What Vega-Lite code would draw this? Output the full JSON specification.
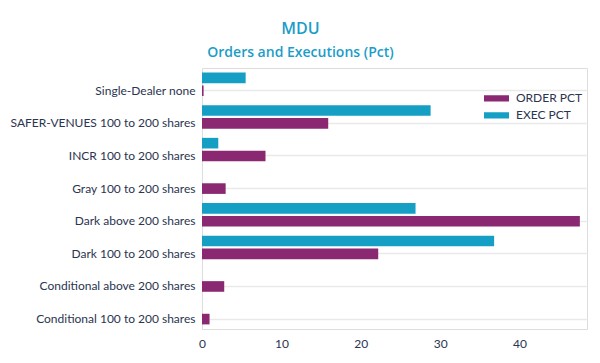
{
  "$schema": "https://vega.github.io/schema/vega-lite/v6.json",
  "width": 385,
  "height": 261,
  "autosize": {"type": "none"},
  "padding": {"left": 202, "top": 68, "right": 13, "bottom": 34},
  "background": "white",
  "title": {
    "text": "MDU",
    "subtitle": "Orders and Executions (Pct)",
    "anchor": "middle",
    "dx": -94,
    "offset": 8,
    "font": "Open Sans",
    "fontSize": 16,
    "fontWeight": 600,
    "color": "#1b9dc8",
    "subtitleFont": "Open Sans",
    "subtitleFontSize": 14,
    "subtitleFontWeight": 600,
    "subtitleColor": "#1b9dc8",
    "subtitlePadding": 9
  },
  "data": {
    "values": [
      {"venue": "Single-Dealer none", "series": "EXEC PCT", "pct": 5.5},
      {"venue": "Single-Dealer none", "series": "ORDER PCT", "pct": 0.2},
      {"venue": "SAFER-VENUES 100 to 200 shares", "series": "EXEC PCT", "pct": 28.8},
      {"venue": "SAFER-VENUES 100 to 200 shares", "series": "ORDER PCT", "pct": 15.9},
      {"venue": "INCR 100 to 200 shares", "series": "EXEC PCT", "pct": 2.05},
      {"venue": "INCR 100 to 200 shares", "series": "ORDER PCT", "pct": 8.0},
      {"venue": "Gray 100 to 200 shares", "series": "ORDER PCT", "pct": 2.98},
      {"venue": "Dark above 200 shares", "series": "EXEC PCT", "pct": 26.9},
      {"venue": "Dark above 200 shares", "series": "ORDER PCT", "pct": 47.6},
      {"venue": "Dark 100 to 200 shares", "series": "EXEC PCT", "pct": 36.8},
      {"venue": "Dark 100 to 200 shares", "series": "ORDER PCT", "pct": 22.2},
      {"venue": "Conditional above 200 shares", "series": "ORDER PCT", "pct": 2.8},
      {"venue": "Conditional 100 to 200 shares", "series": "ORDER PCT", "pct": 0.95}
    ]
  },
  "mark": {"type": "bar"},
  "encoding": {
    "y": {
      "field": "venue",
      "type": "nominal",
      "sort": [
        "Single-Dealer none",
        "SAFER-VENUES 100 to 200 shares",
        "INCR 100 to 200 shares",
        "Gray 100 to 200 shares",
        "Dark above 200 shares",
        "Dark 100 to 200 shares",
        "Conditional above 200 shares",
        "Conditional 100 to 200 shares"
      ],
      "title": null,
      "scale": {"paddingInner": 0.282, "paddingOuter": 0.141},
      "axis": {
        "bandPosition": 0.773,
        "grid": true,
        "gridColor": "#e9e9e9",
        "gridWidth": 1.5,
        "domain": false,
        "ticks": false,
        "labelPadding": 7,
        "labelOffset": 6.4,
        "labelLimit": 300,
        "labelFont": "Lato",
        "labelFontSize": 12,
        "labelColor": "#2b3450"
      }
    },
    "yOffset": {
      "field": "series",
      "type": "nominal",
      "scale": {"domain": ["EXEC PCT", "ORDER PCT"], "paddingInner": 0.17, "paddingOuter": 0}
    },
    "x": {
      "field": "pct",
      "type": "quantitative",
      "scale": {"domain": [0, 48.5], "nice": false},
      "axis": {
        "values": [0, 10, 20, 30, 40],
        "title": null,
        "grid": false,
        "domain": false,
        "ticks": false,
        "labelFlush": false,
        "labelPadding": 9,
        "labelFont": "Lato",
        "labelFontSize": 12,
        "labelColor": "#2b3450"
      }
    },
    "color": {
      "field": "series",
      "type": "nominal",
      "scale": {"domain": ["ORDER PCT", "EXEC PCT"], "range": ["#8a2872", "#169fc4"]},
      "legend": {
        "title": null,
        "orient": "none",
        "legendX": 282,
        "legendY": 22,
        "symbolType": "M-1,-0.25H1V0.25H-1Z",
        "symbolSize": 625,
        "symbolStrokeWidth": 0,
        "labelFont": "Lato",
        "labelFontSize": 12,
        "labelColor": "#2b3450",
        "labelOffset": 7,
        "clipHeight": 16.5,
        "rowPadding": 0,
        "padding": 0
      }
    }
  }
}
